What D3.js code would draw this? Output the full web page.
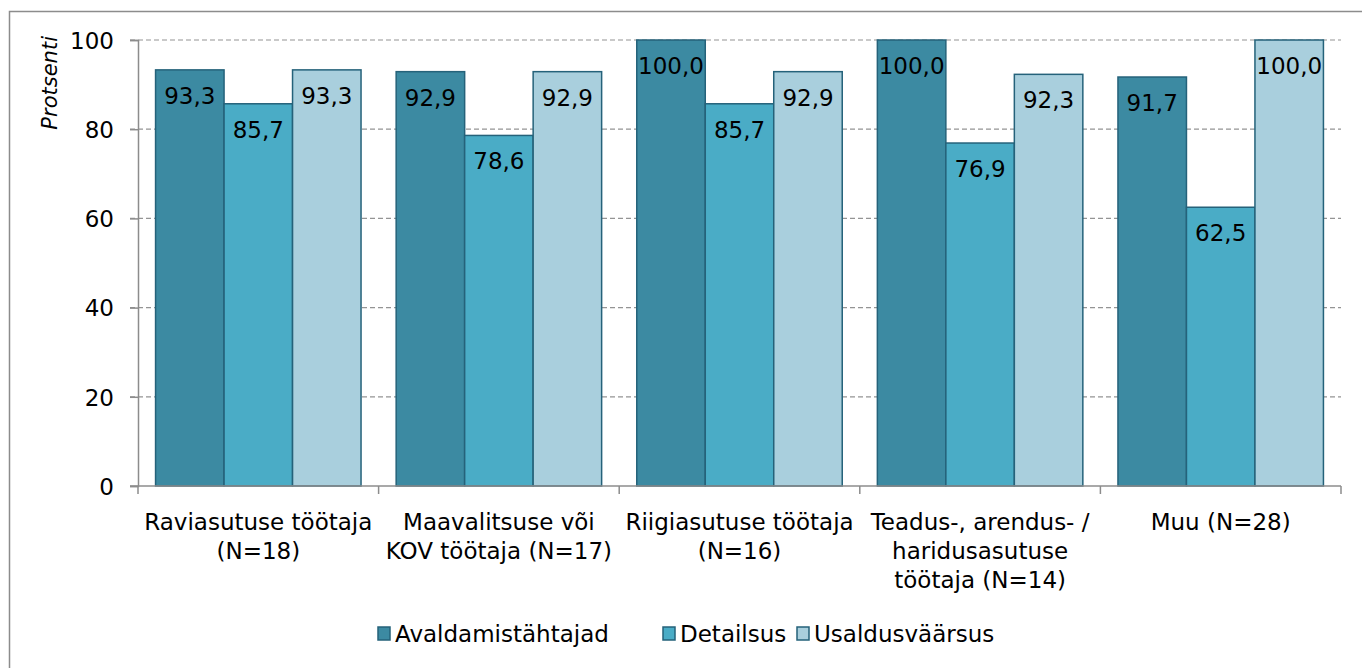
<!DOCTYPE html>
<html>
<head>
<meta charset="utf-8">
<script src="https://cdn.jsdelivr.net/npm/d3@7"></script>
<style>
  body { margin: 0; background: #fff; }
  text { font-family: "DejaVu Sans", sans-serif; fill: #000; }
</style>
</head>
<body>
<div id="chart"></div>
<script>
// data
var categories = [
  ["Raviasutuse töötaja", "(N=18)"],
  ["Maavalitsuse või", "KOV töötaja (N=17)"],
  ["Riigiasutuse töötaja", "(N=16)"],
  ["Teadus-, arendus- /", "haridusasutuse", "töötaja (N=14)"],
  ["Muu (N=28)"]
];
var seriesNames = ["Avaldamistähtajad", "Detailsus", "Usaldusväärsus"];
var avaldamis = [93.3, 92.9, 100.0, 100.0, 91.7];
var detailsus = [85.7, 78.6, 85.7, 76.9, 62.5];
var usaldus = [93.3, 92.9, 92.9, 92.3, 100.0];
var yTicks = [0, 20, 40, 60, 80, 100];

var colors = ["#3c8aa2", "#4aacc6", "#a9cfdd"];
var strokes = "#25627a";
var fs = "23px";

var W = 1362, H = 668;
var margin = { top: 40, left: 138, right: 21, bottom: 182 },
    width = W - margin.left - margin.right,
    height = H - margin.top - margin.bottom;

var svg = d3.select("#chart")
    .append("svg")
    .attr("width", W)
    .attr("height", H);

// outer frame
svg.append("rect")
    .attr("x", 9.5).attr("y", 11.5)
    .attr("width", W).attr("height", H)
    .attr("fill", "none")
    .attr("stroke", "#8c8c8c")
    .attr("stroke-width", 1.5);

var g = svg.append("g")
    .attr("transform", "translate(" + margin.left + "," + margin.top + ")");

var x0 = d3.scaleBand()
    .domain(d3.range(categories.length))
    .range([0, width])
    .paddingInner(0.146)
    .paddingOuter(0.073);

var x1 = d3.scaleBand()
    .domain(d3.range(seriesNames.length))
    .range([0, x0.bandwidth()]);

var y = d3.scaleLinear()
    .domain([0, 100])
    .range([height, 0]);

// gridlines
g.selectAll(".grid")
    .data(yTicks.filter(function (d) { return d > 0; }))
    .enter()
    .append("line")
    .attr("x1", -8).attr("x2", width)
    .attr("y1", function (d) { return y(d); })
    .attr("y2", function (d) { return y(d); })
    .attr("stroke", "#949494")
    .attr("stroke-width", 1.2)
    .attr("stroke-dasharray", "5,3");

// y axis
var yAxis = g.append("g")
    .call(d3.axisLeft(y).tickValues(yTicks).tickSize(8).tickPadding(16).tickFormat(d3.format("d")));
yAxis.select(".domain").attr("stroke", "#8c8c8c").attr("stroke-width", 1.5);
yAxis.selectAll(".tick line").attr("stroke", "#8c8c8c").attr("stroke-width", 1.5);
yAxis.selectAll("text").attr("font-size", fs).style("font-family", "DejaVu Sans").attr("dy", "0.36em");

svg.append("text")
    .attr("transform", "translate(57,36) rotate(-90)")
    .attr("text-anchor", "end")
    .attr("font-size", "21px")
    .attr("font-style", "italic")
    .text("Protsenti");

var series = [avaldamis, detailsus, usaldus];
var rows = [];
categories.forEach(function (c, i) {
  series.forEach(function (s, j) {
    rows.push({ cat: i, ser: j, value: s[i] });
  });
});

// bars
g.selectAll(".bar")
    .data(rows)
    .enter()
    .append("rect")
    .attr("x", function (d) { return x0(d.cat) + x1(d.ser); })
    .attr("y", function (d) { return y(d.value); })
    .attr("width", x1.bandwidth())
    .attr("height", function (d) { return height - y(d.value); })
    .attr("fill", function (d) { return colors[d.ser]; })
    .attr("stroke", strokes)
    .attr("stroke-width", 1.5);

// value labels
g.selectAll(".lbl")
    .data(rows)
    .enter()
    .append("text")
    .attr("x", function (d) { return x0(d.cat) + x1(d.ser) + x1.bandwidth() / 2; })
    .attr("y", function (d) { return y(d.value) + 34; })
    .attr("text-anchor", "middle")
    .attr("font-size", fs)
    .text(function (d) { return d.value.toFixed(1).replace(".", ","); });

// x axis
g.append("line")
    .attr("x1", -8).attr("x2", width)
    .attr("y1", height).attr("y2", height)
    .attr("stroke", "#8c8c8c").attr("stroke-width", 1.5);
var step = width / categories.length;
g.selectAll(".xtick")
    .data(d3.range(categories.length + 1))
    .enter()
    .append("line")
    .attr("x1", function (d) { return d * step; })
    .attr("x2", function (d) { return d * step; })
    .attr("y1", height).attr("y2", height + 8)
    .attr("stroke", "#8c8c8c").attr("stroke-width", 1.5);

g.selectAll(".xlbl")
    .data(categories)
    .enter()
    .append("text")
    .attr("text-anchor", "middle")
    .attr("font-size", fs)
    .attr("transform", function (d, i) { return "translate(" + (i * step + step / 2) + "," + (height + 44) + ")"; })
    .selectAll("tspan")
    .data(function (d) { return d; })
    .enter()
    .append("tspan")
    .attr("x", 0)
    .attr("dy", function (d, i) { return i === 0 ? 0 : 29; })
    .text(function (d) { return d; });

// legend
var legendX = [378, 663, 797];
var legend = svg.selectAll(".leg")
    .data(seriesNames)
    .enter()
    .append("g")
    .attr("transform", function (d, i) { return "translate(" + legendX[i] + ",627)"; });
legend.append("rect")
    .attr("width", 12).attr("height", 13)
    .attr("fill", function (d, i) { return colors[i]; })
    .attr("stroke", strokes)
    .attr("stroke-width", 1.5);
legend.append("text")
    .attr("x", 17).attr("y", 15)
    .attr("font-size", fs)
    .text(function (d) { return d; });
</script>
</body>
</html>
